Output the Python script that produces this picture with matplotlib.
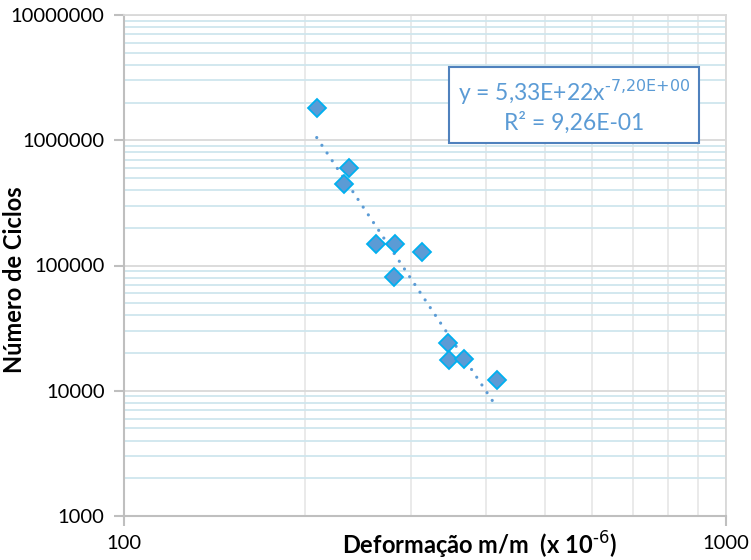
import numpy as np
import matplotlib
matplotlib.use('Agg')
import matplotlib.pyplot as plt
from matplotlib.ticker import FixedLocator, FixedFormatter, NullFormatter

plt.rcParams['font.family'] = ['Lato', 'DejaVu Sans']

# data
deformacao = [209, 236.5, 232, 262, 282, 312.6, 281, 345.8, 347, 366.6, 417]
ciclos = [1800000, 597000, 448000, 148500, 148500, 129000, 80500, 23900, 17600, 17800, 12200]

# power trendline as printed on the chart
coef_a = 5.33e22
coef_b = -7.20

x_ticks = [100, 1000]
x_tick_labels = ['100', '1000']
y_ticks = [1000, 10000, 100000, 1000000, 10000000]
y_tick_labels = ['1000', '10000', '100000', '1000000', '10000000']

fig = plt.figure(figsize=(7.51, 5.60), dpi=100)
ax = fig.add_axes([124/751, 44/560, 602/751, 501/560])
ax.set_xscale('log')
ax.set_yscale('log')
ax.set_xlim(100, 1000)
ax.set_ylim(1000, 10000000)

# grid
ax.xaxis.set_major_locator(FixedLocator(x_ticks))
ax.xaxis.set_major_formatter(FixedFormatter(x_tick_labels))
ax.xaxis.set_minor_locator(FixedLocator([200, 300, 400, 500, 600, 700, 800, 900]))
ax.xaxis.set_minor_formatter(NullFormatter())
ax.yaxis.set_major_locator(FixedLocator(y_ticks))
ax.yaxis.set_major_formatter(FixedFormatter(y_tick_labels))
ax.yaxis.set_minor_locator(FixedLocator([m * 10**e for e in range(3, 7) for m in range(2, 10)]))
ax.yaxis.set_minor_formatter(NullFormatter())

ax.grid(which='major', axis='both', color='#D9D9D9', lw=1.3)
ax.grid(which='minor', axis='x', color='#E8E8E8', lw=1.3)
ax.grid(which='minor', axis='y', color='#CFE6EE', lw=1.3)
ax.set_axisbelow(True)

for s in ['top', 'right']:
    ax.spines[s].set_color('#D9D9D9')
    ax.spines[s].set_linewidth(1.3)
for s in ['left', 'bottom']:
    ax.spines[s].set_color('#BFBFBF')
    ax.spines[s].set_linewidth(1.5)

ax.tick_params(which='major', length=7, width=1.5, color='#BFBFBF',
               labelsize=14.5, labelcolor='black', pad=7)
ax.tick_params(which='minor', length=0)

# trendline
xt = np.linspace(min(deformacao), max(deformacao), 100)
yt = coef_a * xt ** coef_b
ax.plot(xt, yt, color='#5B9BD5', lw=2.3, linestyle=(0, (0.01, 2.9)),
        dash_capstyle='round', zorder=3)

ax.plot(deformacao, ciclos, linestyle='none', marker='D', markersize=9.5,
        markerfacecolor='#5B9BD5', markeredgecolor='#00B0F0',
        markeredgewidth=1.3, zorder=4)

ax.text(0.7475, 0.818,
        'y = 5,33E+22x$^{\\text{-7,20E+00}}$\nR² = 9,26E-01',
        transform=ax.transAxes, ha='center', va='center', fontsize=16.5,
        color='#5B9BD5', linespacing=1.25,
        bbox=dict(boxstyle='square,pad=0.4', fc='white', ec='#4F81BD', lw=1.5))

ax.set_xlabel('Deformação m/m  (x 10$^{\\text{-6}}$)', fontsize=17,
              fontweight='bold')
ax.xaxis.set_label_coords(0.59, -0.028)
ax.set_ylabel('Número de Ciclos', fontsize=17, fontweight='bold')
ax.yaxis.set_label_coords(-0.162, 0.471)

plt.savefig('out.png', dpi=100)
